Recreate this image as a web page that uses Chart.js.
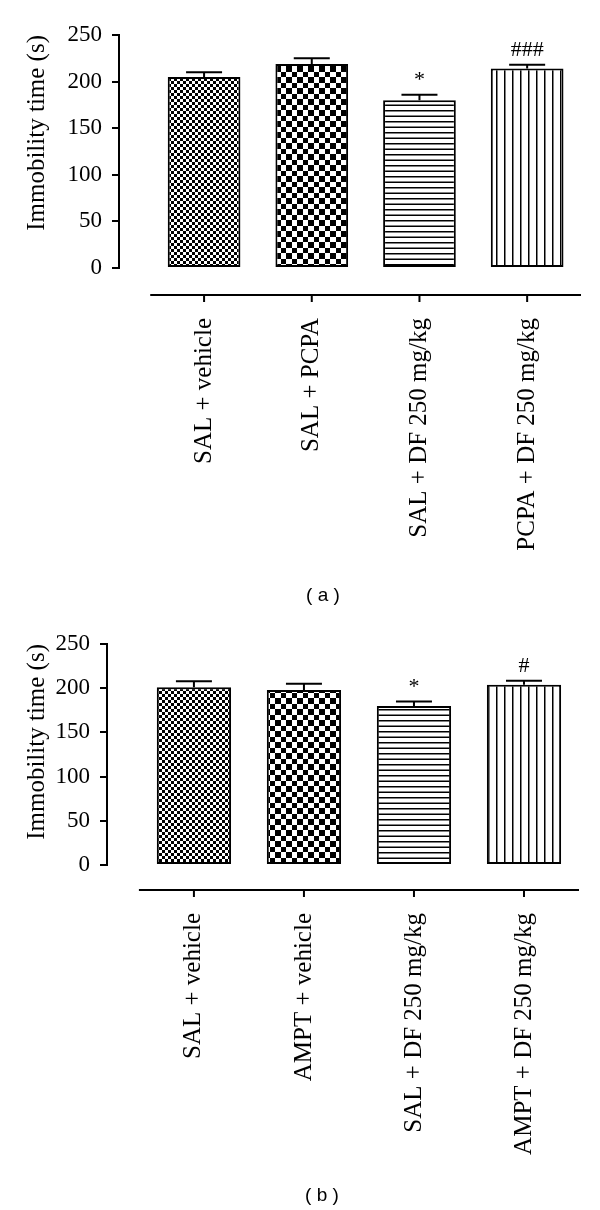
<!DOCTYPE html>
<html>
<head>
<meta charset="utf-8">
<script src="https://cdn.jsdelivr.net/npm/chart.js@4.4.1/dist/chart.umd.min.js"></script>
<style>
html,body{margin:0;padding:0;background:#fff;}
body{width:600px;height:1210px;position:relative;overflow:hidden;}
.panel{position:absolute;left:0;width:600px;}
canvas{display:block;}
.cap{position:absolute;width:100px;text-align:center;font-family:"Liberation Sans",Arial,sans-serif;font-size:19px;line-height:20px;color:#000;white-space:pre;}
</style>
</head>
<body>
<div class="panel" style="top:0;height:610px;"><canvas id="ca" width="600" height="610"></canvas></div>
<div class="panel" style="top:610px;height:600px;"><canvas id="cb" width="600" height="600"></canvas></div>
<div class="cap" style="left:273px;top:585px;">( a )</div>
<div class="cap" style="left:272px;top:1185px;">( b )</div>
<script>
// ---- data ----
const categoriesA = ["SAL + vehicle", "SAL + PCPA", "SAL + DF 250 mg/kg", "PCPA + DF 250 mg/kg"];
const meansA = [205, 219, 180, 214];
const semA = [5, 6, 6, 4];
const marksA = ["", "", "*", "###"];

const categoriesB = ["SAL + vehicle", "AMPT + vehicle", "SAL + DF 250 mg/kg", "AMPT + DF 250 mg/kg"];
const meansB = [201, 198, 180, 204];
const semB = [7, 7, 5, 4.5];
const marksB = ["", "", "*", "#"];

const yTicks = [0, 50, 100, 150, 200, 250];
const yTitle = "Immobility time (s)";

// ---- patterns ----
function makePattern(kind) {
  const c = document.createElement('canvas');
  let g;
  if (kind === 'fine') {
    c.width = 6; c.height = 6; g = c.getContext('2d');
    g.fillStyle = '#fff'; g.fillRect(0, 0, 6, 6);
    g.fillStyle = '#000'; g.fillRect(0, 0, 3, 3); g.fillRect(3, 3, 3, 3);
  } else if (kind === 'coarse') {
    c.width = 11; c.height = 11; g = c.getContext('2d');
    g.fillStyle = '#fff'; g.fillRect(0, 0, 11, 11);
    g.fillStyle = '#000'; g.fillRect(0, 0, 6, 6); g.fillRect(6, 6, 5, 5);
  } else if (kind === 'hlines') {
    c.width = 4; c.height = 11; g = c.getContext('2d');
    g.fillStyle = '#fff'; g.fillRect(0, 0, 4, 11);
    g.fillStyle = '#000'; g.fillRect(0, 0, 4, 1.5); g.fillRect(0, 5.5, 4, 1.5);
  } else {
    c.width = 8; c.height = 4; g = c.getContext('2d');
    g.fillStyle = '#fff'; g.fillRect(0, 0, 8, 4);
    g.fillStyle = '#000'; g.fillRect(0, 0, 1.5, 4);
  }
  return g.createPattern(c, 'repeat');
}
const fills = [makePattern('fine'), makePattern('coarse'), makePattern('hlines'), makePattern('vlines')];

// ---- extras: error bars, significance marks, detached x axis ----
const panelExtras = {
  id: 'panelExtras',
  afterDatasetsDraw(chart, args, opts) {
    const { ctx, chartArea } = chart;
    const x = chart.scales.x, y = chart.scales.y;
    ctx.save();
    ctx.strokeStyle = '#000';
    ctx.fillStyle = '#000';
    ctx.lineWidth = 2;
    opts.means.forEach((m, i) => {
      const px = x.getPixelForValue(i);
      const y0 = y.getPixelForValue(m);
      const y1 = y.getPixelForValue(m + opts.sem[i]);
      ctx.beginPath();
      ctx.moveTo(px, y0); ctx.lineTo(px, y1);
      ctx.moveTo(px - opts.cap, y1); ctx.lineTo(px + opts.cap, y1);
      ctx.stroke();
      if (opts.marks[i]) {
        ctx.font = '22px "Liberation Serif", "Times New Roman", serif';
        ctx.textAlign = 'center';
        ctx.textBaseline = 'alphabetic';
        ctx.fillText(opts.marks[i], px, y1 - 8.5);
      }
    });
    const yl = chartArea.bottom + opts.axisGap;
    ctx.beginPath();
    ctx.moveTo(x.getPixelForValue(-0.5), yl);
    ctx.lineTo(x.getPixelForValue(opts.means.length - 0.5), yl);
    opts.means.forEach((m, i) => {
      const px = x.getPixelForValue(i);
      ctx.moveTo(px, yl); ctx.lineTo(px, yl + 7);
    });
    ctx.stroke();
    ctx.restore();
  }
};

function noPad(ax) {
  ax.paddingLeft = 0; ax.paddingRight = 0; ax.paddingTop = 0; ax.paddingBottom = 0;
}

function makeChart(id, cats, means, sem, marks, L) {
  const points = cats.map((c, i) => ({ x: i, y: means[i] }));
  return new Chart(document.getElementById(id), {
    type: 'bar',
    data: {
      datasets: [{
        data: points,
        backgroundColor: fills,
        borderColor: '#000',
        borderWidth: 2,
        borderSkipped: false,
        categoryPercentage: 1,
        barPercentage: 0.675
      }]
    },
    options: {
      responsive: false,
      animation: false,
      devicePixelRatio: 1,
      layout: { padding: { top: L.top, right: L.right, left: 0, bottom: 0 } },
      plugins: {
        legend: { display: false },
        tooltip: { enabled: false },
        panelExtras: { means: means, sem: sem, marks: marks, cap: 18, axisGap: L.axisGap }
      },
      scales: {
        x: {
          type: 'linear',
          offset: false,
          min: -0.79,
          max: cats.length - 0.5,
          grid: { display: false, drawTicks: false, offset: false },
          border: { display: false },
          afterBuildTicks: ax => { ax.ticks = cats.map((c, i) => ({ value: i })); },
          afterFit: ax => { ax.height = L.xHeight; noPad(ax); },
          ticks: {
            callback: v => cats[v],
            autoSkip: false,
            minRotation: 90,
            maxRotation: 90,
            padding: L.labelPad,
            color: '#000',
            font: { family: '"Liberation Serif", "Times New Roman", serif', size: 25 }
          }
        },
        y: {
          min: 0,
          max: 250,
          afterBuildTicks: ax => { ax.ticks = yTicks.map(v => ({ value: v })); },
          afterFit: ax => { ax.width = L.yWidth; noPad(ax); },
          grid: { display: true, drawOnChartArea: false, drawTicks: true, tickLength: 7, color: '#000', lineWidth: 2 },
          border: { display: true, color: '#000', width: 2 },
          ticks: {
            padding: 10,
            color: '#000',
            font: { family: '"Liberation Serif", "Times New Roman", serif', size: 23 }
          },
          title: {
            display: true,
            text: yTitle,
            align: 'end',
            color: '#000',
            font: { family: '"Liberation Serif", "Times New Roman", serif', size: 25 },
            padding: { top: 22, bottom: 0 }
          }
        }
      }
    },
    plugins: [panelExtras]
  });
}

makeChart('ca', categoriesA, meansA, semA, marksA,
  { top: 35, right: 19, xHeight: 342, yWidth: 119, labelPad: 50, axisGap: 27 });
makeChart('cb', categoriesB, meansB, semB, marksB,
  { top: 34, right: 21, xHeight: 345, yWidth: 107, labelPad: 48, axisGap: 25 });
</script>
</body>
</html>
